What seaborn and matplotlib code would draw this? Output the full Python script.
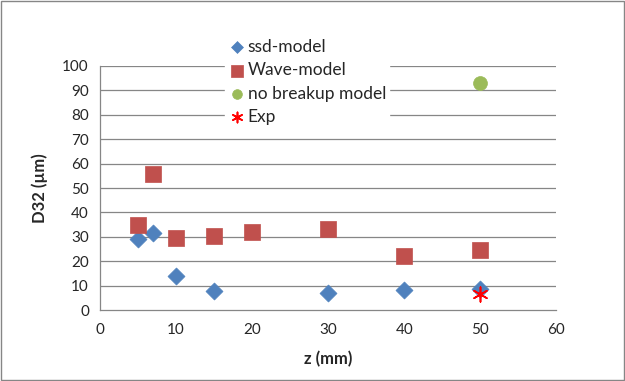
import pandas as pd
import seaborn as sns
import matplotlib.pyplot as plt

# valeurs
ssd_z = [5, 7, 10, 15, 30, 40, 50]
ssd_d32 = [29.0, 31.5, 13.9, 7.8, 7.0, 8.2, 8.6]

wave_z = [5, 7, 10, 15, 20, 30, 40, 50]
wave_d32 = [35.0, 55.7, 29.5, 30.2, 32.0, 33.2, 22.1, 24.8]

nobreak_z = [50]
nobreak_d32 = [93.0]

exp_z = [50]
exp_d32 = [6.5]

sns.set_theme(style="white")
plt.rcParams['font.family'] = ['Lato', 'DejaVu Sans']

fig = plt.figure(figsize=(6.25, 3.81), dpi=100)
ax = fig.add_axes([0.16, 0.186, 0.73, 0.641])

grid_col = '#868686'
for v in range(10, 101, 10):
    ax.axhline(v, color=grid_col, lw=0.9, zorder=0)

sns.scatterplot(x=ssd_z, y=ssd_d32, ax=ax, marker='D', s=75, color='#4F81BD',
                edgecolor='#4F81BD', linewidth=0.5, label='ssd-model', zorder=3)
sns.scatterplot(x=wave_z, y=wave_d32, ax=ax, marker='s', s=130, color='#C0504D',
                edgecolor='#C0504D', linewidth=0.5, label='Wave-model', zorder=3)
sns.scatterplot(x=nobreak_z, y=nobreak_d32, ax=ax, marker='o', s=100, color='#9BBB59',
                edgecolor='#9BBB59', linewidth=0.5, label='no breakup model', zorder=3)
sns.scatterplot(x=exp_z, y=exp_d32, ax=ax, marker=(6, 2, 0), s=110, color='#FF0000',
                edgecolor='#FF0000', linewidth=1.2, label='Exp', zorder=4)

ax.set_xlim(0, 60)
ax.set_ylim(0, 100)
ax.set_xticks(range(0, 61, 10))
ax.set_yticks(range(0, 101, 10))
ax.tick_params(axis='x', length=5, color=grid_col, direction='out', labelsize=11, pad=4)
ax.tick_params(axis='y', length=0, labelsize=11, pad=8)

for side in ['top', 'right']:
    ax.spines[side].set_visible(False)
for side in ['left', 'bottom']:
    ax.spines[side].set_color(grid_col)
    ax.spines[side].set_linewidth(0.9)

ax.set_xlabel('z (mm)', fontsize=12, fontweight='bold', labelpad=10)
ax.set_ylabel('D32 (µm)', fontsize=12, fontweight='bold', labelpad=10)

leg = ax.legend(loc='upper left', bbox_to_anchor=(0.255, 1.16), frameon=True,
                fontsize=12.5, handletextpad=0.1, labelspacing=0.42,
                borderpad=0.2, handlelength=1.0, markerscale=0.7)
leg.get_frame().set_facecolor('white')
leg.get_frame().set_edgecolor('white')
leg.get_frame().set_alpha(1)
leg.set_zorder(5)

# bordure de la zone du graphique
fig.patches.append(plt.Rectangle((0.002, 0.003), 0.996, 0.994, transform=fig.transFigure,
                                 fill=False, edgecolor='#868686', lw=1))

plt.savefig('out.png', dpi=100)
